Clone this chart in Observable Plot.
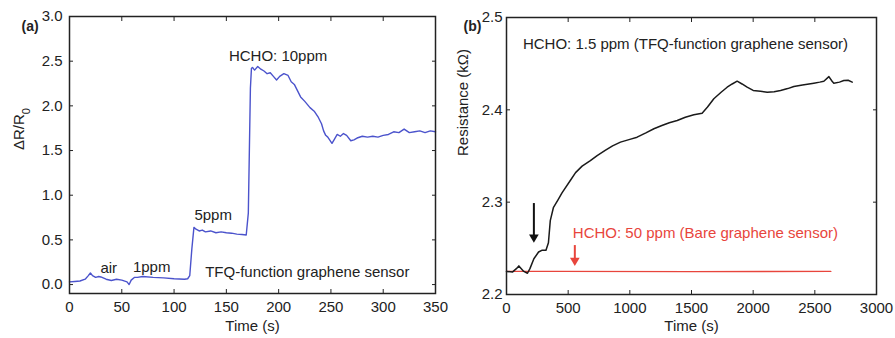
<!DOCTYPE html>
<html>
<head>
<meta charset="utf-8">
<script src="https://cdn.jsdelivr.net/npm/d3@7"></script>
<script src="https://cdn.jsdelivr.net/npm/@observablehq/plot@0.6"></script>
<style>
  html, body { margin: 0; padding: 0; background: #fff; }
  #wrap { position: relative; width: 895px; height: 338px; overflow: hidden; background: #fff; }
  #left, #right { position: absolute; top: 0; }
  #left { left: 0; z-index: 2; }
  #right { left: 445px; z-index: 1; }
  svg { overflow: visible; }
</style>
</head>
<body>
<div id="wrap"><div id="left"></div><div id="right"></div></div>
<script>
// ---------- Panel (a) data ----------
const aTime = [0,5,10,15,18,20,22,25,28,30,35,40,45,50,55,57,59,62,65,70,80,90,100,110,113,115,117,119,121,124,127,130,135,140,145,150,155,160,165,169,171,172,173,174,175,177,180,183,186,189,192,195,198,201,205,209,212,215,218,221,225,230,234,238,241,243,245,247,251,253,256,259,262,265,269,272,275,280,285,290,295,300,305,310,315,320,325,330,335,340,345,350];
const aValue = [0.03,0.035,0.04,0.06,0.10,0.13,0.10,0.08,0.09,0.085,0.06,0.045,0.06,0.05,0.03,0.00,0.05,0.08,0.08,0.09,0.08,0.075,0.065,0.06,0.065,0.10,0.40,0.64,0.62,0.60,0.61,0.59,0.60,0.58,0.59,0.58,0.575,0.565,0.56,0.555,0.80,1.50,2.20,2.42,2.43,2.40,2.44,2.41,2.39,2.36,2.37,2.33,2.29,2.33,2.36,2.34,2.27,2.24,2.17,2.10,2.05,1.98,1.94,1.87,1.80,1.72,1.67,1.65,1.58,1.62,1.68,1.66,1.69,1.67,1.61,1.62,1.64,1.66,1.65,1.66,1.65,1.67,1.68,1.71,1.70,1.74,1.70,1.71,1.72,1.70,1.72,1.71];
const aXTicks = [0,50,100,150,200,250,300,350];
const aYTicks = [0,0.5,1.0,1.5,2.0,2.5,3.0];
const aNoteText = ["HCHO: 10ppm","5ppm","air","1ppm","TFQ-function graphene sensor"];
const aNoteX = [199.5,137.4,37.5,78.6,227.4];
const aNoteY = [2.56,0.78,0.18,0.20,0.14];

// ---------- Panel (b) data ----------
const bTime = [0,50,80,100,120,140,170,190,222,260,290,320,340,355,380,420,450,520,560,613,680,735,800,860,924,1000,1059,1130,1195,1260,1320,1384,1450,1519,1586,1630,1681,1740,1789,1830,1870,1910,1951,2000,2059,2114,2170,2222,2280,2330,2400,2492,2540,2573,2614,2640,2654,2700,2735,2770,2803];
const bTFQ = [2.225,2.2245,2.228,2.231,2.228,2.225,2.223,2.228,2.2387,2.246,2.248,2.248,2.256,2.28,2.294,2.303,2.31,2.324,2.332,2.339,2.345,2.3505,2.356,2.361,2.365,2.368,2.3704,2.375,2.3795,2.383,2.386,2.3885,2.392,2.3946,2.3964,2.403,2.412,2.419,2.4245,2.428,2.431,2.428,2.4245,2.421,2.4202,2.419,2.4195,2.4209,2.423,2.4253,2.427,2.4289,2.43,2.431,2.436,2.431,2.4289,2.430,2.4317,2.432,2.43];
const bBareTime = [0,400,1500,2630];
const bBare = [2.225,2.225,2.2248,2.225];
const bXTicks = [0,500,1000,1500,2000,2500,3000];
const bYTicks = [2.2,2.3,2.4,2.5];
const bArrowTime = [222,554];
const bArrowTop = [2.2985,2.253];
const bArrowTip = [2.2566,2.2314];
const bArrowColor = ["#111111","#e8453c"];
const bNoteText = ["HCHO: 1.5 ppm (TFQ-function graphene sensor)","HCHO: 50 ppm (Bare graphene sensor)"];
const bNoteX = [1451,1613];
const bNoteY = [2.4708,2.2666];
const bNoteColor = ["#222222","#e8453c"];

const FONT = "'Liberation Sans', Arial, Helvetica, sans-serif";
const INK = "#222";
const fmt1 = d3.format(".1f");

function frameAxes(xTicks, yTicks, yFmt, ypad) {
  return [
    Plot.axisX({ticks: xTicks, anchor: "bottom", tickSize: 0, tickPadding: 8, tickFormat: d => String(d), label: null, fontSize: 15, fill: INK}),
    Plot.axisX({ticks: xTicks, anchor: "bottom", tickSize: 4, dy: -4, tickFormat: () => "", label: null, stroke: INK}),
    Plot.axisX({ticks: xTicks, anchor: "top", tickSize: 4, dy: 4, tickFormat: () => "", label: null, stroke: INK}),
    Plot.axisY({ticks: yTicks, anchor: "left", tickSize: 0, tickPadding: ypad, tickFormat: yFmt, label: null, fontSize: 15, fill: INK}),
    Plot.axisY({ticks: yTicks, anchor: "left", tickSize: 4, dx: 4, tickFormat: () => "", label: null, stroke: INK}),
    Plot.axisY({ticks: yTicks, anchor: "right", tickSize: 4, dx: -4, tickFormat: () => "", label: null, stroke: INK}),
    Plot.frame({stroke: INK, strokeWidth: 1.5})
  ];
}

// ---------- Panel (a) ----------
const aRows = aTime.map((t, i) => ({t, v: aValue[i]}));
const aNotes = aNoteText.map((text, i) => ({text, x: aNoteX[i], y: aNoteY[i]}));
const plotA = Plot.plot({
  width: 445, height: 338,
  marginLeft: 69, marginRight: 10, marginTop: 16, marginBottom: 45,
  style: {fontFamily: FONT, fontSize: "15px", background: "transparent", color: INK, overflow: "visible"},
  x: {domain: [0, 350]},
  y: {domain: [-0.1, 3.0]},
  marks: [
    Plot.line(aRows, {x: "t", y: "v", stroke: "#4b53cc", strokeWidth: 1.4}),
    Plot.text(aNotes, {x: "x", y: "y", text: "text", fontSize: 15, fill: INK}),
    ...frameAxes(aXTicks, aYTicks, fmt1, 7),
    Plot.text(["Time (s)"], {frameAnchor: "bottom", dy: 37, fontSize: 15, fill: INK}),
    Plot.text(["ΔR/R0"], {frameAnchor: "left", dx: -50, dy: -5, rotate: -90, fontSize: 15, fill: INK}),
    Plot.text(["(a)"], {frameAnchor: "top-left", dx: -48, dy: 5, fontSize: 14, fontWeight: "bold", fill: INK})
  ]
});
document.getElementById("left").appendChild(plotA);
// subscript for R0
d3.select(plotA).selectAll("text").filter(function() { return this.textContent === "ΔR/R0"; })
  .each(function() {
    const el = d3.select(this);
    el.text("ΔR/R");
    el.append("tspan").attr("baseline-shift", "sub").attr("font-size", "11px").text("0");
  });

// ---------- Panel (b) ----------
const bRows = bTime.map((t, i) => ({t, v: bTFQ[i]}));
const bBareRows = bBareTime.map((t, i) => ({t, v: bBare[i]}));
const bArrows = bArrowTime.map((t, i) => ({t, top: bArrowTop[i], tip: bArrowTip[i], c: bArrowColor[i]}));
const bNotes = bNoteText.map((text, i) => ({text, x: bNoteX[i], y: bNoteY[i], c: bNoteColor[i]}));
const plotB = Plot.plot({
  width: 450, height: 338,
  marginLeft: 61, marginRight: 19, marginTop: 17, marginBottom: 44,
  style: {fontFamily: FONT, fontSize: "15px", background: "transparent", color: INK, overflow: "visible"},
  x: {domain: [0, 3000]},
  y: {domain: [2.2, 2.5]},
  marks: [
    Plot.line(bBareRows, {x: "t", y: "v", stroke: "#e8453c", strokeWidth: 1.3}),
    Plot.line(bRows, {x: "t", y: "v", stroke: "#1a1a1a", strokeWidth: 1.5}),
    Plot.ruleX(bArrows, {x: "t", y1: "top", y2: "tip", stroke: "c", strokeWidth: 2, insetBottom: 6}),
    Plot.dot(bArrows, {x: "t", y: "tip", symbol: "triangle", rotate: 180, r: 3.6, fill: "c", stroke: null, dy: -5}),
    Plot.text(bNotes, {x: "x", y: "y", text: "text", fill: "c", fontSize: 15}),
    ...frameAxes(bXTicks, bYTicks, fmt1, 4),
    Plot.text(["Time (s)"], {frameAnchor: "bottom", dy: 36, fontSize: 15, fill: INK}),
    Plot.text(["Resistance (kΩ)"], {frameAnchor: "left", dx: -43, rotate: -90, fontSize: 15, fill: INK}),
    Plot.text(["(b)"], {frameAnchor: "top-left", dx: -43, dy: 4, fontSize: 14, fontWeight: "bold", fill: INK})
  ]
});
document.getElementById("right").appendChild(plotB);
</script>
</body>
</html>
